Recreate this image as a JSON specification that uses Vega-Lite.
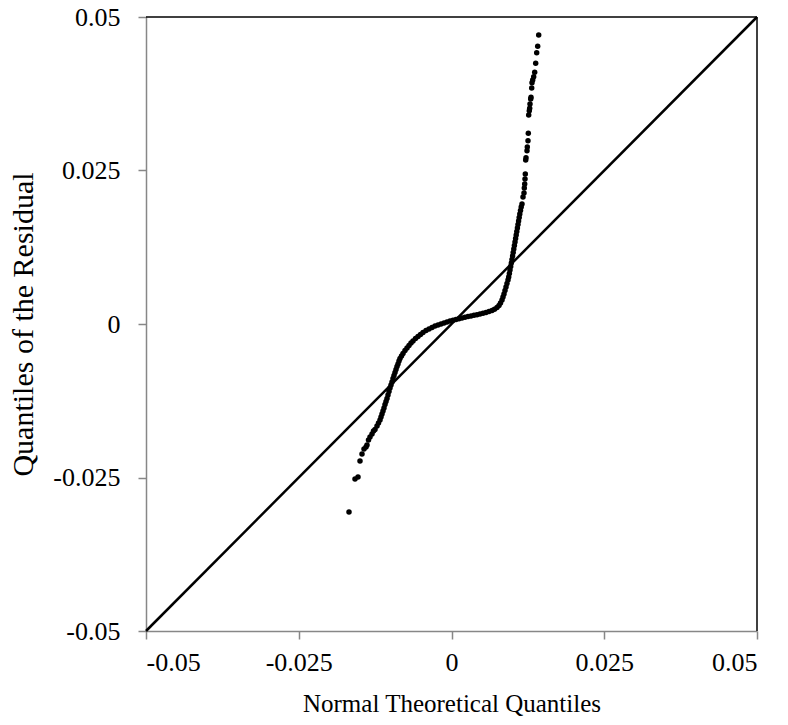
{
  "$schema": "https://vega.github.io/schema/vega-lite/v6.json",
  "width": 611,
  "height": 614,
  "autosize": {"type": "none"},
  "padding": {"left": 146, "top": 17, "right": 31, "bottom": 94},
  "background": "white",
  "config": {
    "view": {"stroke": null},
    "font": "Liberation Serif",
    "axis": {
      "grid": false,
      "domainColor": "#878787",
      "domainWidth": 1.5,
      "tickColor": "#878787",
      "tickWidth": 1.5,
      "tickSize": 8,
      "labelFont": "Liberation Serif",
      "labelFontSize": 26,
      "labelColor": "black",
      "titleFont": "Liberation Serif",
      "titleFontWeight": "normal",
      "titleColor": "black"
    }
  },
  "datasets": {
    "border": [
      {"x": -0.05, "x2": 0.05, "y": 0.05, "y2": 0.05},
      {"x": 0.05, "x2": 0.05, "y": -0.05, "y2": 0.05}
    ],
    "diag": [
      {"x": -0.05, "x2": 0.05, "y": -0.05, "y2": 0.05}
    ],
    "pts": [
      {"q": -0.016776, "r": -0.030619},
      {"q": -0.015794, "r": -0.025244},
      {"q": -0.015303, "r": -0.024919},
      {"q": -0.014975, "r": -0.022313},
      {"q": -0.014648, "r": -0.021173},
      {"q": -0.014321, "r": -0.020358},
      {"q": -0.013993, "r": -0.020033},
      {"q": -0.013830, "r": -0.019707},
      {"q": -0.013584, "r": -0.018893},
      {"q": -0.013339, "r": -0.018404},
      {"q": -0.013011, "r": -0.017915},
      {"q": -0.012766, "r": -0.017427},
      {"q": -0.012520, "r": -0.017182},
      {"q": -0.012193, "r": -0.016612},
      {"q": -0.011948, "r": -0.016124},
      {"q": -0.011702, "r": -0.015635},
      {"q": -0.011538, "r": -0.015147},
      {"q": -0.011375, "r": -0.014658},
      {"q": -0.011211, "r": -0.014169},
      {"q": -0.011047, "r": -0.013681},
      {"q": -0.010884, "r": -0.013111},
      {"q": -0.010720, "r": -0.012622},
      {"q": -0.010556, "r": -0.012134},
      {"q": -0.010393, "r": -0.011564},
      {"q": -0.010229, "r": -0.010993},
      {"q": -0.010065, "r": -0.010423},
      {"q": -0.009902, "r": -0.009935},
      {"q": -0.009738, "r": -0.009446},
      {"q": -0.009574, "r": -0.008876},
      {"q": -0.009411, "r": -0.008388},
      {"q": -0.009247, "r": -0.007899},
      {"q": -0.009083, "r": -0.007410},
      {"q": -0.008920, "r": -0.006922},
      {"q": -0.008756, "r": -0.006515},
      {"q": -0.008592, "r": -0.006026},
      {"q": -0.008429, "r": -0.005619},
      {"q": -0.008183, "r": -0.005212},
      {"q": -0.007938, "r": -0.004805},
      {"q": -0.007610, "r": -0.004316},
      {"q": -0.007283, "r": -0.003909},
      {"q": -0.006956, "r": -0.003502},
      {"q": -0.006628, "r": -0.003094},
      {"q": -0.006301, "r": -0.002769},
      {"q": -0.005892, "r": -0.002362},
      {"q": -0.005483, "r": -0.002036},
      {"q": -0.005074, "r": -0.001710},
      {"q": -0.004664, "r": -0.001384},
      {"q": -0.004173, "r": -0.001059},
      {"q": -0.003682, "r": -0.000814},
      {"q": -0.003191, "r": -0.000570},
      {"q": -0.002700, "r": -0.000326},
      {"q": -0.002209, "r": -0.000163},
      {"q": -0.001718, "r": 0.000000},
      {"q": -0.001227, "r": 0.000163},
      {"q": -0.000736, "r": 0.000326},
      {"q": -0.000245, "r": 0.000489},
      {"q": 0.000245, "r": 0.000603},
      {"q": 0.000736, "r": 0.000733},
      {"q": 0.001227, "r": 0.000847},
      {"q": 0.001718, "r": 0.000977},
      {"q": 0.002209, "r": 0.001091},
      {"q": 0.002700, "r": 0.001221},
      {"q": 0.003191, "r": 0.001303},
      {"q": 0.003682, "r": 0.001417},
      {"q": 0.004173, "r": 0.001498},
      {"q": 0.004664, "r": 0.001629},
      {"q": 0.005155, "r": 0.001743},
      {"q": 0.005646, "r": 0.001873},
      {"q": 0.006137, "r": 0.002036},
      {"q": 0.006628, "r": 0.002199},
      {"q": 0.007038, "r": 0.002394},
      {"q": 0.007447, "r": 0.002687},
      {"q": 0.007774, "r": 0.003013},
      {"q": 0.008020, "r": 0.003420},
      {"q": 0.008265, "r": 0.003909},
      {"q": 0.008429, "r": 0.004397},
      {"q": 0.008592, "r": 0.004886},
      {"q": 0.008756, "r": 0.005456},
      {"q": 0.008920, "r": 0.006026},
      {"q": 0.009083, "r": 0.006596},
      {"q": 0.009247, "r": 0.007166},
      {"q": 0.009362, "r": 0.007655},
      {"q": 0.009476, "r": 0.008225},
      {"q": 0.009574, "r": 0.008795},
      {"q": 0.009689, "r": 0.009365},
      {"q": 0.009787, "r": 0.009935},
      {"q": 0.009902, "r": 0.010505},
      {"q": 0.010000, "r": 0.011075},
      {"q": 0.010098, "r": 0.011645},
      {"q": 0.010196, "r": 0.012215},
      {"q": 0.010295, "r": 0.012785},
      {"q": 0.010393, "r": 0.013355},
      {"q": 0.010491, "r": 0.013925},
      {"q": 0.010589, "r": 0.014495},
      {"q": 0.010687, "r": 0.015065},
      {"q": 0.010786, "r": 0.015635},
      {"q": 0.010884, "r": 0.016205},
      {"q": 0.010982, "r": 0.016775},
      {"q": 0.011080, "r": 0.017345},
      {"q": 0.011178, "r": 0.017915},
      {"q": 0.011293, "r": 0.018485},
      {"q": 0.011408, "r": 0.019055},
      {"q": 0.011538, "r": 0.019544},
      {"q": 0.011702, "r": 0.020684},
      {"q": 0.011866, "r": 0.021336},
      {"q": 0.011915, "r": 0.022150},
      {"q": 0.011980, "r": 0.022801},
      {"q": 0.012029, "r": 0.023616},
      {"q": 0.012079, "r": 0.024430},
      {"q": 0.012144, "r": 0.026710},
      {"q": 0.012193, "r": 0.027085},
      {"q": 0.012357, "r": 0.028225},
      {"q": 0.012406, "r": 0.028827},
      {"q": 0.012520, "r": 0.029853},
      {"q": 0.012570, "r": 0.031059},
      {"q": 0.012635, "r": 0.034039},
      {"q": 0.012733, "r": 0.034739},
      {"q": 0.012799, "r": 0.035130},
      {"q": 0.012848, "r": 0.035831},
      {"q": 0.012962, "r": 0.036645},
      {"q": 0.013011, "r": 0.036922},
      {"q": 0.013126, "r": 0.038436},
      {"q": 0.013175, "r": 0.039300},
      {"q": 0.013290, "r": 0.039739},
      {"q": 0.013453, "r": 0.040277},
      {"q": 0.013617, "r": 0.040993},
      {"q": 0.013781, "r": 0.042459},
      {"q": 0.013944, "r": 0.044186},
      {"q": 0.014108, "r": 0.045228},
      {"q": 0.014272, "r": 0.047068}
    ]
  },
  "layer": [
    {
      "data": {"name": "border"},
      "mark": {"type": "rule", "color": "black", "strokeWidth": 1.5},
      "encoding": {
        "x": {"field": "x", "type": "quantitative", "scale": {"domain": [-0.05, 0.05], "nice": false, "zero": false}},
        "x2": {"field": "x2"},
        "y": {"field": "y", "type": "quantitative", "scale": {"domain": [-0.05, 0.05], "nice": false, "zero": false}},
        "y2": {"field": "y2"}
      }
    },
    {
      "data": {"name": "diag"},
      "mark": {"type": "rule", "color": "black", "strokeWidth": 2.5},
      "encoding": {
        "x": {"field": "x", "type": "quantitative"},
        "x2": {"field": "x2"},
        "y": {"field": "y", "type": "quantitative"},
        "y2": {"field": "y2"}
      }
    },
    {
      "data": {"name": "pts"},
      "mark": {"type": "circle", "color": "black", "opacity": 1, "size": 30},
      "encoding": {
        "x": {
          "field": "q", "type": "quantitative",
          "scale": {"domain": [-0.05, 0.05], "nice": false, "zero": false},
          "axis": {"title": "Normal Theoretical Quantiles", "titleFontSize": 25, "values": [-0.05, -0.025, 0, 0.025, 0.05], "labelExpr": "toString(datum.value)", "labelPadding": 10, "titlePadding": 16}
        },
        "y": {
          "field": "r", "type": "quantitative",
          "scale": {"domain": [-0.05, 0.05], "nice": false, "zero": false},
          "axis": {"title": "Quantiles of the Residual", "titleFontSize": 30, "values": [-0.05, -0.025, 0, 0.025, 0.05], "labelExpr": "toString(datum.value)", "labelPadding": 18, "titlePadding": 14}
        }
      }
    }
  ]
}
